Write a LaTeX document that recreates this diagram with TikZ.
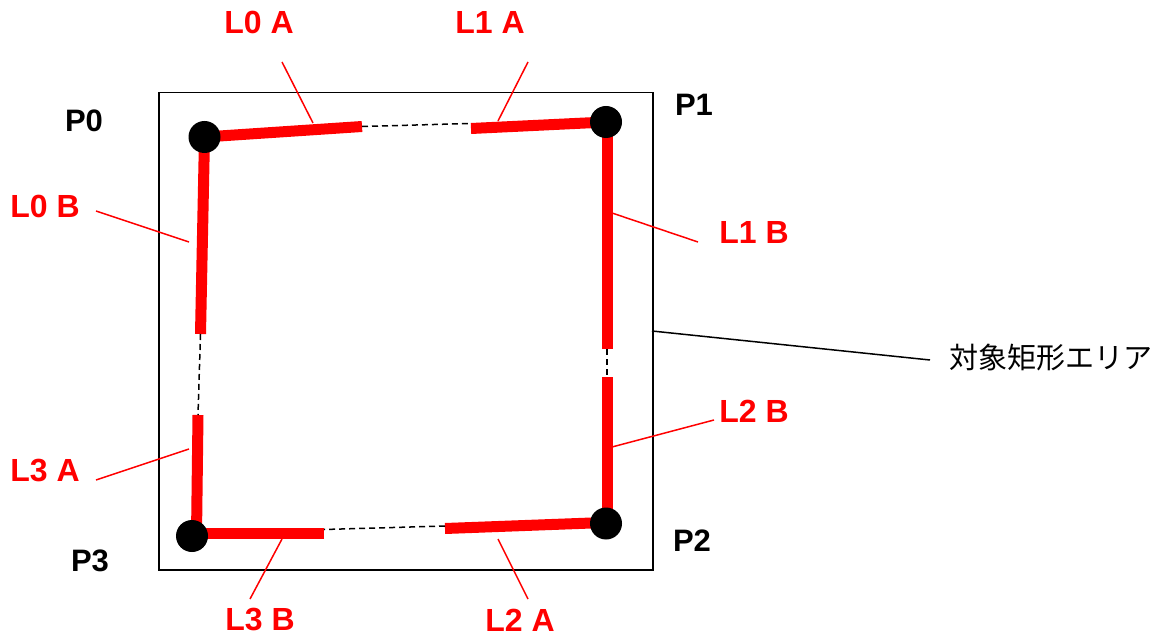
\documentclass[tikz,border=0pt]{standalone}
\usepackage{fontspec}
\setmainfont{Liberation Sans}
\newfontfamily\jpfont{Noto Sans CJK JP}
\begin{document}
\begin{tikzpicture}[x=1pt,y=-1pt,
  redlbl/.style={text=red,font=\fontsize{32}{38}\selectfont\bfseries,inner sep=0pt,anchor=center},
  plbl/.style={text=black,font=\fontsize{31}{37}\selectfont\bfseries,inner sep=0pt,anchor=center},
  seg/.style={draw=red,line width=11pt,line cap=butt},
  gap/.style={draw=black,line width=1.5pt,dash pattern=on 6pt off 4pt},
  leader/.style={draw=red,line width=1.5pt},
  dot/.style={circle,fill=black,minimum size=32pt,inner sep=0pt}]
\useasboundingbox (0,0) rectangle (1162,636);
% target rectangle
\node[draw=black,line width=1.5pt,minimum width=494pt,minimum height=477pt,inner sep=0pt,anchor=north west] (area) at (158,92) {};
% corner points
\coordinate (p0) at (204.5,137);
\coordinate (p1) at (606,122);
\coordinate (p2) at (606,523.5);
\coordinate (p3) at (192,536);
% segment free ends
\coordinate (a0) at (362,126.5);
\coordinate (a1) at (471,128.5);
\coordinate (b1) at (607,349);
\coordinate (b2) at (607,377);
\coordinate (a2) at (445,528.5);
\coordinate (b3) at (324,533.5);
\coordinate (a3) at (198,415);
\coordinate (b0) at (200.5,334);
% segments
\draw[seg] (p0) -- (a0);
\draw[seg] (a1) -- (p1);
\draw[seg] (607,122) -- (b1);
\draw[seg] (b2) -- (607,523.5);
\draw[seg] (605,522.5) -- (a2);
\draw[seg] (b3) -- (192,533.5);
\draw[seg] (a3) -- (196.5,536);
\draw[seg] (204.5,137) -- (b0);
% dashed gaps
\draw[gap] (a0) -- (470,123.5);
\draw[gap] (b1) -- (b2);
\draw[gap] (445,526) -- (324,529.5);
\draw[gap] (b0) -- (a3);
% dots
\node[dot] (d0) at (p0) {};
\node[dot] (d1) at (p1) {};
\node[dot] (d2) at (p2) {};
\node[dot] (d3) at (p3) {};
% point labels
\node[plbl] (P0) at (84,121) {P0};
\node[plbl] (P1) at (694,105) {P1};
\node[plbl] (P2) at (692,541) {P2};
\node[plbl] (P3) at (90,561) {P3};
% segment labels
\node[redlbl] (L0A) at (259,22) {L0 A};
\node[redlbl] (L1A) at (490,22) {L1 A};
\node[redlbl] (L0B) at (45,206) {L0 B};
\node[redlbl] (L1B) at (754,232) {L1 B};
\node[redlbl] (L2B) at (754,411) {L2 B};
\node[redlbl] (L3A) at (45,471) {L3 A};
\node[redlbl] (L3B) at (260,620) {L3 B};
\node[redlbl] (L2A) at (520,620) {L2 A};
% leader coordinates
\coordinate (l0a1) at (282,62);   \coordinate (l0a2) at (313,123);
\coordinate (l1a1) at (528,62);   \coordinate (l1a2) at (498,121);
\coordinate (l0b1) at (96,211);   \coordinate (l0b2) at (189,242);
\coordinate (l3a1) at (96,480);   \coordinate (l3a2) at (189,449);
\coordinate (l1b1) at (698,242);  \coordinate (l1b2) at (612,213);
\coordinate (l2b1) at (714,420);  \coordinate (l2b2) at (612,447);
\coordinate (l3b1) at (250,599);  \coordinate (l3b2) at (282,539);
\coordinate (l2a1) at (528,599);  \coordinate (l2a2) at (498,539);
\draw[leader] (l0a1) -- (l0a2);
\draw[leader] (l1a1) -- (l1a2);
\draw[leader] (l0b1) -- (l0b2);
\draw[leader] (l3a1) -- (l3a2);
\draw[leader] (l1b1) -- (l1b2);
\draw[leader] (l2b1) -- (l2b2);
\draw[leader] (l3b1) -- (l3b2);
\draw[leader] (l2a1) -- (l2a2);
% area label
\node[inner sep=0pt,anchor=center,font=\jpfont\fontsize{29}{34}\selectfont] (jp) at (1051,358) {対象矩形エリア};
\coordinate (arx) at (652,331);
\coordinate (jpl) at (930,360);
\draw[black,line width=1.5pt] (arx) -- (jpl);
\end{tikzpicture}
\end{document}
